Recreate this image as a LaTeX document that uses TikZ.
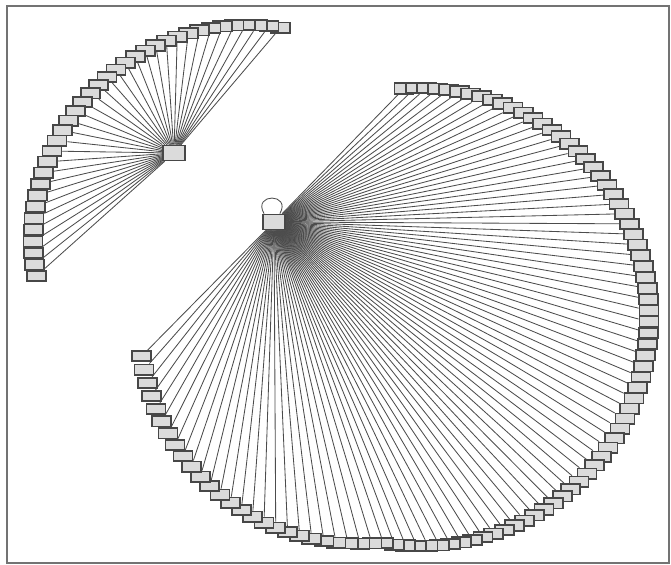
\documentclass[tikz,border=0pt]{standalone}
\usepackage{tikz}
\usetikzlibrary{positioning}

\begin{document}
\begin{tikzpicture}[
        x=0.5pt, y=-0.5pt,
        leaf/.style={rectangle, draw=black!72, fill=black!14, line width=0.85pt, minimum width=9.5pt, minimum height=5.2pt, inner sep=0pt},
        hub/.style={leaf, minimum width=11pt, minimum height=7.5pt},
        link/.style={draw=black!70, line width=0.42pt},
        frame/.style={draw=black!55, line width=0.9pt}
    ]
    \useasboundingbox (0,0) rectangle (671,565);
    \draw [frame] (7,6) rectangle (669,563);
    % small star
    \node [hub] (shub) at (174,153) {};
    \foreach \i in {0,...,35} {
        \pgfmathsetmacro{\ang}{81+\i*(109/35)}
        \node [leaf] (s\i) at ({247+214*cos(\ang)},{239-214*sin(\ang)}) {};
        \path [link] (shub) -- (s\i);
    }
    % big star with self loop
    \node [hub] (bhub) at (274,222) {};
    \path [link] (bhub.140) to [out=120, in=60, distance=12pt] (bhub.55);
    \foreach \i in {0,...,95} {
        \pgfmathsetmacro{\ang}{94-\i*(266/95)}
        \pgfmathsetmacro{\spir}{max(0,(-100-\ang)/72)}
        \pgfmathsetmacro{\rad}{229+52*sin(90*\spir)}
        \node [leaf] (b\i) at ({420+\rad*cos(\ang)},{317-\rad*sin(\ang)}) {};
        \path [link] (bhub) -- (b\i);
    }
\end{tikzpicture}
\end{document}
